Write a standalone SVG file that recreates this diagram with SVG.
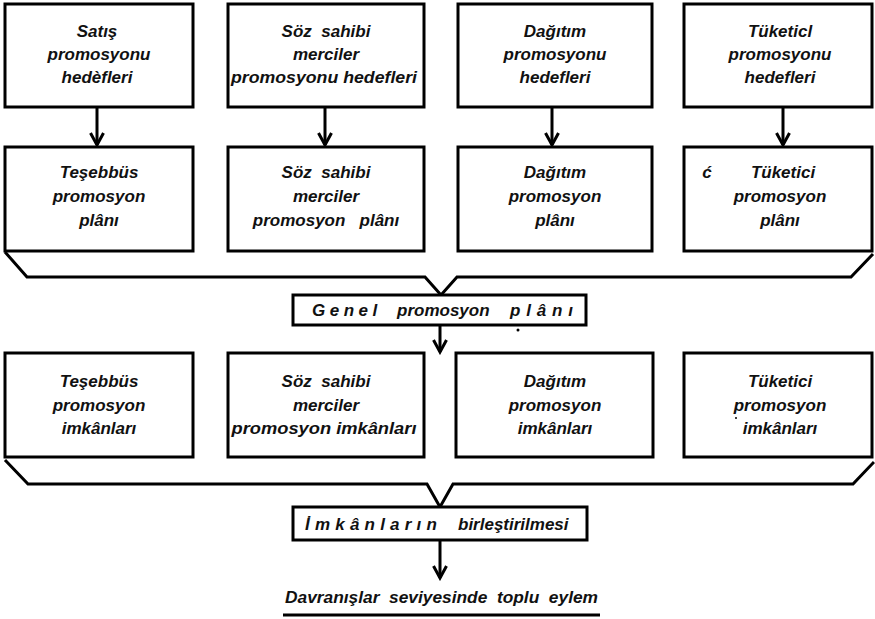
<svg xmlns="http://www.w3.org/2000/svg" width="875" height="619" viewBox="0 0 875 619">
<style>
.box{fill:#fff;stroke:#000;stroke-width:3}
.t{font-family:"Liberation Sans",Arial,sans-serif;font-weight:bold;font-style:italic;font-size:17px;fill:#111;text-anchor:middle}
.s{text-anchor:start}
.ln{fill:none;stroke:#000;stroke-width:3}
</style>
<defs>
<marker id="arr" markerUnits="userSpaceOnUse" markerWidth="16" markerHeight="16" viewBox="0 0 16 16" refX="13" refY="8" orient="auto">
<path d="M1,1.5 L13,8 L1,14.5" fill="none" stroke="#000" stroke-width="3"/>
</marker>
</defs>
<rect width="875" height="619" fill="#fff"/>
<g id="connectors">
<line class="ln" x1="97" y1="107" x2="97" y2="145" marker-end="url(#arr)"/>
<line class="ln" x1="325" y1="107" x2="325" y2="145" marker-end="url(#arr)"/>
<line class="ln" x1="552" y1="107" x2="552" y2="145" marker-end="url(#arr)"/>
<line class="ln" x1="783" y1="107" x2="783" y2="145" marker-end="url(#arr)"/>
<polyline class="ln" points="5,252 27,277 425,277 441,295 457,277 851,277 873,254"/>
<line class="ln" x1="440" y1="325" x2="440" y2="352" marker-end="url(#arr)"/>
<polyline class="ln" points="5,460 28,484 427,484 440,507 453,484 853,484 874,462"/>
<line class="ln" x1="440" y1="540" x2="440" y2="578" marker-end="url(#arr)"/>
</g>
<g id="n1"><rect class="box" x="5" y="4" width="188" height="103"/>
<text class="t" x="97" y="37">Satış</text><text class="t" x="99" y="60">promosyonu</text><text class="t" x="97" y="83">hedèfleri</text></g>
<g id="n2"><rect class="box" x="228" y="4" width="196" height="103"/>
<text class="t" x="326" y="37" xml:space="preserve">Söz  sahibi</text><text class="t" x="326" y="60">merciler</text><text class="t" x="324" y="83" textLength="186" lengthAdjust="spacingAndGlyphs">promosyonu hedefleri</text></g>
<g id="n3"><rect class="box" x="458" y="4" width="194" height="103"/>
<text class="t" x="555" y="37">Dağıtım</text><text class="t" x="555" y="60">promosyonu</text><text class="t" x="555" y="83">hedefleri</text></g>
<g id="n4"><rect class="box" x="684" y="4" width="188" height="103"/>
<text class="t" x="780" y="37">Tüketicl</text><text class="t" x="780" y="60">promosyonu</text><text class="t" x="780" y="83">hedefleri</text></g>

<g id="n5"><rect class="box" x="5" y="147" width="188" height="104"/>
<text class="t" x="99" y="178">Teşebbüs</text><text class="t" x="99" y="202">promosyon</text><text class="t" x="99" y="226">plânı</text></g>
<g id="n6"><rect class="box" x="228" y="147" width="196" height="104"/>
<text class="t" x="326" y="178" xml:space="preserve">Söz  sahibi</text><text class="t" x="326" y="202">merciler</text><text class="t" x="326" y="226" xml:space="preserve">promosyon   plânı</text></g>
<g id="n7"><rect class="box" x="458" y="147" width="194" height="104"/>
<text class="t" x="555" y="178">Dağıtım</text><text class="t" x="555" y="202">promosyon</text><text class="t" x="555" y="226">plânı</text></g>
<g id="n8"><rect class="box" x="684" y="147" width="188" height="104"/>
<text class="t" x="707" y="178">ć</text><text class="t" x="783" y="178">Tüketici</text><text class="t" x="780" y="202">promosyon</text><text class="t" x="780" y="226">plânı</text></g>

<g id="n9"><rect class="box" x="293" y="295" width="293" height="30"/>
<text class="t s" x="312" y="316" letter-spacing="4.5">Genel</text>
<text class="t s" x="397" y="316">promosyon</text>
<text class="t s" x="510" y="316" letter-spacing="5.8">plânı</text>
<circle cx="518" cy="330" r="1.5" fill="#000"/></g>

<g id="n10"><rect class="box" x="5" y="353" width="188" height="104"/>
<text class="t" x="99" y="387">Teşebbüs</text><text class="t" x="99" y="411">promosyon</text><text class="t" x="99" y="434">imkânları</text></g>
<g id="n11"><rect class="box" x="228" y="353" width="196" height="104"/>
<text class="t" x="326" y="387" xml:space="preserve">Söz  sahibi</text><text class="t" x="326" y="411">merciler</text><text class="t" x="324" y="434" textLength="185" lengthAdjust="spacingAndGlyphs">promosyon imkânları</text></g>
<g id="n12"><rect class="box" x="456" y="353" width="197" height="104"/>
<text class="t" x="555" y="387">Dağıtım</text><text class="t" x="555" y="411">promosyon</text><text class="t" x="555" y="434">imkânları</text></g>
<g id="n13"><rect class="box" x="684" y="353" width="188" height="104"/>
<text class="t" x="780" y="387">Tüketici</text><text class="t" x="780" y="411">promosyon</text><text class="t" x="780" y="434">imkânları</text>
<circle cx="736" cy="418" r="1" fill="#000"/></g>

<g id="n14"><rect class="box" x="293" y="507" width="294" height="33"/>
<text class="t s" x="305" y="530" letter-spacing="5.2">İmkânların</text>
<text class="t s" x="458" y="530">birleştirilmesi</text></g>

<g id="n15"><text class="t s" x="285" y="603" textLength="313" lengthAdjust="spacingAndGlyphs" xml:space="preserve">Davranışlar  seviyesinde  toplu  eylem</text>
<line class="ln" x1="283" y1="615" x2="600" y2="615"/></g>
</svg>
